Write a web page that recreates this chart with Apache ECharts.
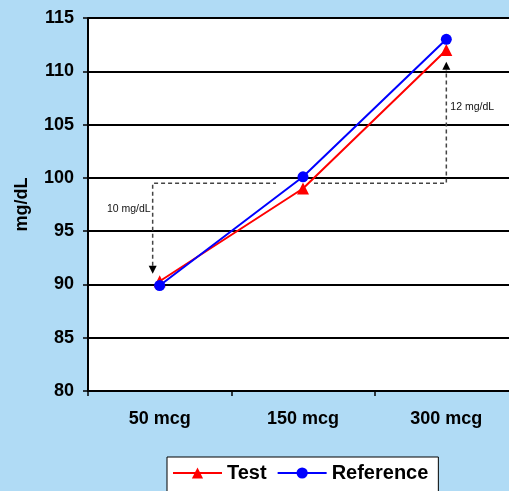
<!DOCTYPE html>
<html>
<head>
<meta charset="utf-8">
<script src="https://cdn.jsdelivr.net/npm/echarts@6/dist/echarts.min.js"></script>
<style>
  html, body { margin: 0; padding: 0; background: #b0dbf5; }
  #chart { width: 509px; height: 491px; }
</style>
</head>
<body>
<div id="chart"></div>
<script>
// Dose levels and mean glucose values (mg/dL)
const doses = ['50 mcg', '150 mcg', '300 mcg'];
const testValues = [90.3, 99.0, 112.0];
const referenceValues = [89.9, 100.1, 113.0];
const yTicks = { min: 80, max: 115, step: 5 };

// Dashed elbow annotation: [startDose, endDose, elbowLevel, lowTip, highTip]
const gapBracket = [[0, 2, 99.5, 91.0, 110.9]];
const gapLabels = ['10 mg/dL', '12 mg/dL'];
const gapLabelLevels = [97.1, 106.6];

const chart = echarts.init(document.getElementById('chart'));
const FONT = 'Liberation Sans, Arial, sans-serif';

function renderBracket(params, api) {
  const i0 = api.value(0), i1 = api.value(1);
  const level = api.value(2), lowTip = api.value(3), highTip = api.value(4);
  const pLeftTop = api.coord([i0, level]);
  const pLeftTip = api.coord([i0, lowTip]);
  const pRightTop = api.coord([i1, level]);
  const pRightTip = api.coord([i1, highTip]);
  const pMid = api.coord([(i0 + i1) / 2, level]);
  const lx = pLeftTop[0] - 7;
  const rx = pRightTop[0];
  const y = pLeftTop[1];
  // horizontal run is broken where the two series lines cross it
  const gapStart = pMid[0] - 27, gapEnd = pMid[0] + 11;
  const dash = { stroke: '#444', lineWidth: 1.5, lineDash: [4, 3], fill: null };
  const ah = 8, aw = 4;
  return {
    type: 'group',
    children: [
      { type: 'polyline', shape: { points: [[lx, pLeftTip[1] - ah], [lx, y], [gapStart, y]] }, style: dash },
      { type: 'polyline', shape: { points: [[gapEnd, y], [rx, y], [rx, pRightTip[1] + ah]] }, style: dash },
      { type: 'polygon', shape: { points: [[lx - aw, pLeftTip[1] - ah], [lx + aw, pLeftTip[1] - ah], [lx, pLeftTip[1]]] }, style: { fill: '#000' } },
      { type: 'polygon', shape: { points: [[rx - aw, pRightTip[1] + ah], [rx + aw, pRightTip[1] + ah], [rx, pRightTip[1]]] }, style: { fill: '#000' } },
      { type: 'text', style: { text: gapLabels[0], x: lx - 2, y: api.coord([i0, gapLabelLevels[0]])[1], align: 'right', verticalAlign: 'middle', font: '10.5px ' + FONT, fill: '#111' } },
      { type: 'text', style: { text: gapLabels[1], x: rx + 4, y: api.coord([i1, gapLabelLevels[1]])[1], align: 'left', verticalAlign: 'middle', font: '10.5px ' + FONT, fill: '#111' } }
    ]
  };
}

chart.setOption({
  backgroundColor: '#b0dbf5',
  animation: false,
  grid: {
    left: 88, top: 18, width: 430, height: 373,
    outerBoundsMode: 'none', containLabel: false,
    backgroundColor: '#fff', show: true, borderWidth: 0
  },
  legend: {
    left: 167, top: 457,
    backgroundColor: '#fff', borderColor: '#000', borderWidth: 1,
    padding: [6, 10, 14, 5],
    itemWidth: 49, itemHeight: 14, itemGap: 10,
    textStyle: { fontFamily: FONT, fontWeight: 'bold', fontSize: 20, color: '#000' },
    data: ['Test', 'Reference']
  },
  xAxis: {
    type: 'category',
    data: doses,
    boundaryGap: true,
    axisLine: { lineStyle: { color: '#000', width: 2 } },
    axisTick: { show: true, length: 5, lineStyle: { color: '#000', width: 1.5 } },
    axisLabel: { color: '#000', fontFamily: FONT, fontWeight: 'bold', fontSize: 18, margin: 19 }
  },
  yAxis: {
    type: 'value',
    min: yTicks.min, max: yTicks.max, interval: yTicks.step,
    name: 'mg/dL', nameLocation: 'middle', nameGap: 57, nameRotate: 90,
    nameTextStyle: { color: '#000', fontFamily: FONT, fontWeight: 'bold', fontSize: 18 },
    axisLine: { show: true, lineStyle: { color: '#000', width: 2 } },
    axisTick: { show: true, length: 5, lineStyle: { color: '#000', width: 1.5 } },
    splitLine: { lineStyle: { color: '#000', width: 2 } },
    axisLabel: { color: '#000', fontFamily: FONT, fontWeight: 'bold', fontSize: 18, margin: 14 }
  },
  series: [
    {
      type: 'custom', name: 'bracket', z: 1, silent: true,
      renderItem: renderBracket,
      data: gapBracket
    },
    {
      name: 'Test', type: 'line', z: 3,
      data: testValues,
      symbol: 'triangle', symbolSize: 12,
      lineStyle: { color: '#ff0000', width: 2 },
      itemStyle: { color: '#ff0000' }
    },
    {
      name: 'Reference', type: 'line', z: 4,
      data: referenceValues,
      symbol: 'circle', symbolSize: 11,
      lineStyle: { color: '#0000ff', width: 2 },
      itemStyle: { color: '#0000ff' }
    }
  ]
});
</script>
</body>
</html>
